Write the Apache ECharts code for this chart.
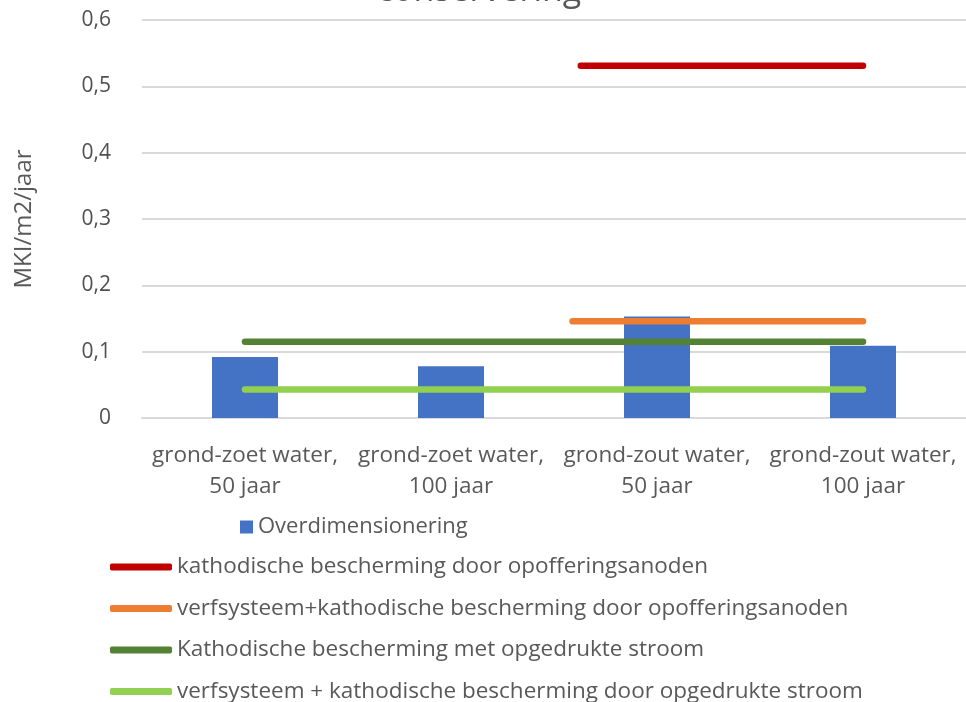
<!DOCTYPE html>
<html>
<head>
<meta charset="utf-8">
<script src="https://cdn.jsdelivr.net/npm/echarts@6/dist/echarts.min.js"></script>
<style>html,body{margin:0;padding:0;background:#fff;}#c{width:966px;height:702px;}</style>
</head>
<body>
<div id="c"></div>
<script>
const titleText = 'conservering';
const yAxisName = 'MKI/m2/jaar';
const categories = ['grond-zoet water,\n50 jaar', 'grond-zoet water,\n100 jaar', 'grond-zout water,\n50 jaar', 'grond-zout water,\n100 jaar'];
const barName = 'Overdimensionering';
const barValues = [0.092, 0.078, 0.153, 0.109];

const redName = 'kathodische bescherming door opofferingsanoden';
const redX = [1.63, 3];
const redY = [0.531, 0.531];
const orangeName = 'verfsysteem+kathodische bescherming door opofferingsanoden';
const orangeX = [1.59, 3];
const orangeY = [0.146, 0.146];
const dgreenName = 'Kathodische bescherming met opgedrukte stroom';
const dgreenX = [0, 3];
const dgreenY = [0.115, 0.115];
const lgreenName = 'verfsysteem + kathodische bescherming door opgedrukte stroom';
const lgreenX = [0, 3];
const lgreenY = [0.043, 0.043];

const FONT = 'Open Sans';
const TXT = '#595959';

function pairs(xs, ys) { return xs.map((x, i) => [x, ys[i]]); }
function lineSeries(name, xs, ys, color) {
  return {
    name: name, type: 'line', xAxisIndex: 1, yAxisIndex: 0,
    data: pairs(xs, ys), showSymbol: false, symbol: 'none',
    lineStyle: { color: color, width: 6.5, cap: 'round' },
    itemStyle: { color: color }, silent: true, z: 3
  };
}

const chart = echarts.init(document.getElementById('c'));
chart.setOption({
  animation: false,
  backgroundColor: '#fff',
  textStyle: { fontFamily: FONT },
  graphic: [{
    type: 'text', x: 479, y: 8,
    style: { text: titleText, fontFamily: FONT, fontSize: 34, fill: TXT, align: 'center', verticalAlign: 'bottom' }
  }],
  grid: { left: 142, right: -4, top: 20, bottom: 284, containLabel: false },
  xAxis: [{
    type: 'category', data: categories,
    axisLine: { show: true, lineStyle: { color: '#d9d9d9', width: 2 } },
    axisTick: { show: false },
    axisLabel: { color: TXT, fontFamily: FONT, fontSize: 22.5, lineHeight: 31, margin: 22, interval: 0 }
  }, {
    type: 'value', min: -0.5, max: 3.5, show: false
  }],
  yAxis: [{
    type: 'value', min: 0, max: 0.6, interval: 0.1,
    name: yAxisName, nameLocation: 'middle', nameGap: 106, nameRotate: 90,
    nameTextStyle: { color: TXT, fontFamily: FONT, fontSize: 24 },
    axisLine: { show: false }, axisTick: { show: false },
    splitLine: { lineStyle: { color: '#d9d9d9', width: 2 } },
    axisLabel: { color: '#505050', fontFamily: FONT, fontSize: 21, margin: 31,
      formatter: v => (Math.round(v * 10) / 10).toString().replace('.', ',') }
  }],
  legend: [{
    data: [barName], left: 235, top: 509, orient: 'horizontal',
    icon: 'rect', itemWidth: 13, itemHeight: 13, itemGap: 6,
    textStyle: { color: TXT, fontFamily: FONT, fontSize: 22, lineHeight: 26 }
  }, {
    data: [redName, orangeName, dgreenName, lgreenName].map(n => ({ name: n, icon: 'roundRect' })),
    left: 110, top: 554, height: 160, orient: 'vertical', padding: 0,
    itemWidth: 62, itemHeight: 7, itemGap: 15.5,
    textStyle: { color: TXT, fontFamily: FONT, fontSize: 22.5, lineHeight: 26, padding: [0, 0, 0, 0] }
  }],
  series: [
    { name: barName, type: 'bar', data: barValues, barWidth: 66, itemStyle: { color: '#4472C4' }, z: 2 },
    lineSeries(redName, redX, redY, '#C00000'),
    lineSeries(orangeName, orangeX, orangeY, '#ED7D31'),
    lineSeries(dgreenName, dgreenX, dgreenY, '#548235'),
    lineSeries(lgreenName, lgreenX, lgreenY, '#92D050')
  ]
});
</script>
</body>
</html>
